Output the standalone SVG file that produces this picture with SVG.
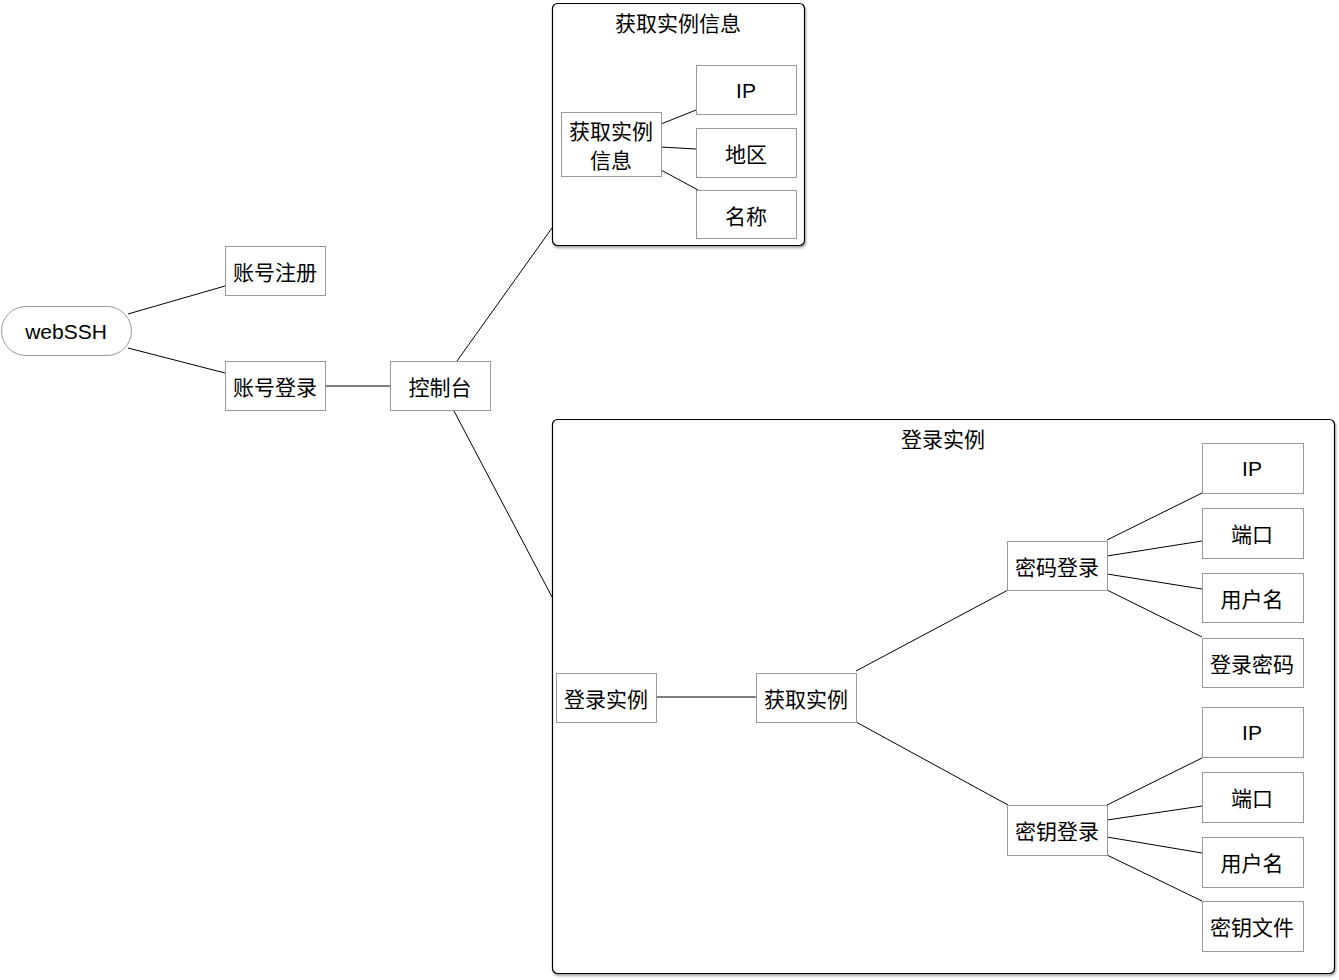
<svg xmlns="http://www.w3.org/2000/svg" width="1339" height="980" viewBox="0 0 1339 980">
<defs>
<filter id="sh" x="-5%" y="-5%" width="110%" height="110%">
<feDropShadow dx="1" dy="2" stdDeviation="1.2" flood-color="#000" flood-opacity="0.35"/>
</filter>
<style>
text{font-family:"Noto Sans CJK SC","Liberation Sans",sans-serif;font-size:21px;fill:#000;text-anchor:middle;dominant-baseline:central}
text.l{font-family:"Liberation Sans",sans-serif;font-size:21px}
.n{fill:#fff;stroke:#999;stroke-width:1}
.c{fill:#fff;stroke:#000;stroke-width:1.2}
.e{stroke:#000;stroke-width:1;fill:none}
</style>
</defs>
<rect width="1339" height="980" fill="#fff"/>
<g id="container-info">
<rect class="c" x="552.5" y="3.5" width="252" height="242" rx="5" filter="url(#sh)"/>
<text x="678" y="22">获取实例信息</text>
</g>
<g id="container-login">
<rect class="c" x="552.5" y="419.5" width="782" height="554" rx="5" filter="url(#sh)"/>
<text x="943" y="438">登录实例</text>
</g>
<g id="connectors">
<line class="e" x1="128" y1="314" x2="225" y2="286"/>
<line class="e" x1="128" y1="348" x2="225" y2="373"/>
<line class="e" x1="325" y1="386" x2="390" y2="386"/>
<line class="e" x1="457" y1="361" x2="552" y2="228"/>
<line class="e" x1="454" y1="411" x2="552" y2="597"/>
<line class="e" x1="661" y1="124" x2="696" y2="110"/>
<line class="e" x1="661" y1="147" x2="696" y2="149"/>
<line class="e" x1="661" y1="170" x2="698" y2="190"/>
<line class="e" x1="656" y1="697" x2="756" y2="697"/>
<line class="e" x1="856" y1="671" x2="1008" y2="590"/>
<line class="e" x1="856" y1="722" x2="1008" y2="805"/>
<line class="e" x1="1107" y1="540" x2="1202" y2="493"/>
<line class="e" x1="1107" y1="556" x2="1202" y2="541"/>
<line class="e" x1="1107" y1="574" x2="1202" y2="589"/>
<line class="e" x1="1107" y1="590" x2="1202" y2="637"/>
<line class="e" x1="1107" y1="805" x2="1202" y2="758"/>
<line class="e" x1="1107" y1="820" x2="1202" y2="806"/>
<line class="e" x1="1107" y1="837" x2="1202" y2="853"/>
<line class="e" x1="1107" y1="855" x2="1202" y2="901"/>
</g>
<g id="webssh"><rect class="n" x="1.5" y="306.5" width="130" height="49" rx="24.5"/><text class="l" x="66" y="331">webSSH</text></g>
<g id="reg"><rect class="n" x="225.5" y="246.5" width="100" height="49"/><text x="275" y="271">账号注册</text></g>
<g id="login"><rect class="n" x="225.5" y="361.5" width="100" height="49"/><text x="275" y="386">账号登录</text></g>
<g id="console"><rect class="n" x="390.5" y="361.5" width="100" height="49"/><text x="440" y="386">控制台</text></g>
<g id="info"><rect class="n" x="561.5" y="112.5" width="100" height="64"/><text x="611" y="130">获取实例</text><text x="611" y="159">信息</text></g>
<g id="info-ip"><rect class="n" x="696.5" y="65.5" width="100" height="49"/><text class="l" x="746" y="90">IP</text></g>
<g id="info-region"><rect class="n" x="696.5" y="128.5" width="100" height="49"/><text x="746" y="153">地区</text></g>
<g id="info-name"><rect class="n" x="696.5" y="190.5" width="100" height="48"/><text x="746" y="215">名称</text></g>
<g id="login-inst"><rect class="n" x="556.5" y="673.5" width="100" height="49"/><text x="606" y="698">登录实例</text></g>
<g id="get-inst"><rect class="n" x="756.5" y="673.5" width="100" height="49"/><text x="806" y="698">获取实例</text></g>
<g id="pwd-login"><rect class="n" x="1007.5" y="541.5" width="100" height="49"/><text x="1057" y="566">密码登录</text></g>
<g id="key-login"><rect class="n" x="1007.5" y="805.5" width="100" height="50"/><text x="1057" y="830">密钥登录</text></g>
<g id="p-ip"><rect class="n" x="1202.5" y="443.5" width="101" height="50"/><text class="l" x="1252" y="468">IP</text></g>
<g id="p-port"><rect class="n" x="1202.5" y="508.5" width="101" height="50"/><text x="1252" y="533">端口</text></g>
<g id="p-user"><rect class="n" x="1202.5" y="573.5" width="101" height="49"/><text x="1252" y="598">用户名</text></g>
<g id="p-pwd"><rect class="n" x="1202.5" y="638.5" width="101" height="49"/><text x="1252" y="663">登录密码</text></g>
<g id="k-ip"><rect class="n" x="1202.5" y="707.5" width="101" height="50"/><text class="l" x="1252" y="732">IP</text></g>
<g id="k-port"><rect class="n" x="1202.5" y="772.5" width="101" height="50"/><text x="1252" y="797">端口</text></g>
<g id="k-user"><rect class="n" x="1202.5" y="837.5" width="101" height="50"/><text x="1252" y="862">用户名</text></g>
<g id="k-file"><rect class="n" x="1202.5" y="901.5" width="101" height="50"/><text x="1252" y="926">密钥文件</text></g>
</svg>
